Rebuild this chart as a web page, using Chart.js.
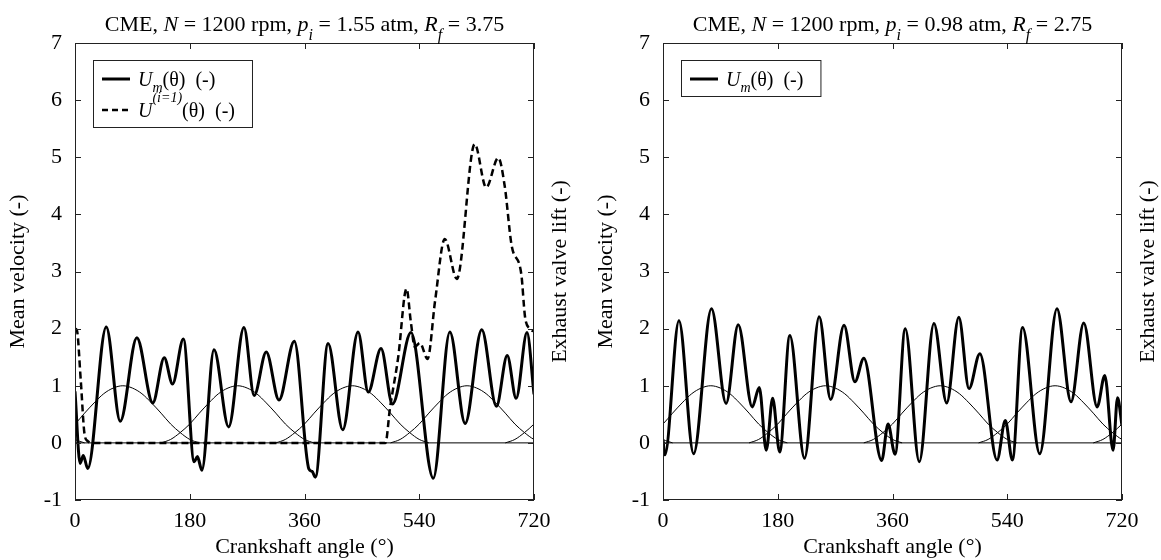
<!DOCTYPE html>
<html>
<head>
<meta charset="utf-8">
<script src="https://cdn.jsdelivr.net/npm/chart.js@4.4.1/dist/chart.umd.min.js"></script>
<style>
  body { margin: 0; background: #fff; }
  .panel { position: absolute; top: 0; height: 560px; }
  #left { left: 0; width: 580px; }
  #right { left: 580px; width: 581px; }
</style>
</head>
<body>
<div class="panel" id="left"><canvas id="chartLeft" width="580" height="560"></canvas></div>
<div class="panel" id="right"><canvas id="chartRight" width="581" height="560"></canvas></div>
<script>
const angleTicks = [0, 180, 360, 540, 720];
const velocityTicks = [-1, 0, 1, 2, 3, 4, 5, 6, 7];

// exhaust valve lift: same bell for each cylinder
const liftPeaks = [-105, 75, 255, 435, 615, 795];
const liftOffsets = [-120, -105, -90, -75, -60, -45, -30, -15, 0, 15, 30, 45, 60, 75, 90, 105, 120];
const liftShape = [0, 0.06, 0.18, 0.33, 0.52, 0.7, 0.86, 0.96, 1, 0.96, 0.86, 0.7, 0.52, 0.33, 0.18, 0.06, 0];

// left panel, p_i = 1.55 atm
const leftMeanAngles = [0, 8, 13, 20, 49, 71, 97, 122, 140, 153, 170, 187, 192, 199, 218, 241, 265, 281, 300, 320,
  344, 367, 372, 377, 397, 420, 444, 460, 480, 498, 527, 562, 588, 612, 638, 661, 678, 692, 709, 720];
const leftMeanValues = [0.9, -0.36, -0.22, -0.45, 2.03, 0.38, 1.84, 0.7, 1.49, 1.03, 1.82, -0.33, -0.24, -0.48, 1.63, 0.28, 2.02, 0.83, 1.59, 0.75,
  1.78, -0.46, -0.5, -0.6, 1.74, 0.23, 1.94, 0.89, 1.65, 0.68, 1.93, -0.62, 1.94, 0.34, 1.98, 0.64, 1.53, 0.78, 1.93, 0.85];
const leftCycleAngles = [0, 3, 9, 15, 20, 26, 487, 494, 507, 520, 527, 533, 541, 553, 565, 580, 599, 627, 645, 664, 674, 685, 700, 706, 713, 720];
const leftCycleValues = [2.0, 1.97, 1.1, 0.15, 0.03, 0, 0, 0.6, 1.5, 2.7, 2.1, 1.68, 1.75, 1.47, 2.5, 3.57, 2.87, 5.23, 4.47, 4.99, 4.5, 3.45, 2.96, 2.2, 2.0, 1.95];

// right panel, p_i = 0.98 atm
const rightMeanAngles = [0, 3, 25, 48, 76, 99, 118, 140, 151, 162, 172, 183, 199, 222, 245, 263, 284, 301, 315, 343,
  353, 364, 380, 402, 425, 445, 464, 480, 497, 524, 537, 548, 564, 591, 618, 640, 660, 681, 693, 706, 713, 720];
const rightMeanValues = [0.05, -0.21, 2.14, -0.19, 2.35, 0.69, 2.07, 0.63, 0.97, -0.13, 0.78, -0.16, 1.88, -0.27, 2.21, 0.76, 2.06, 1.07, 1.48, -0.31,
  0.33, -0.2, 2.0, -0.33, 2.09, 0.7, 2.2, 0.95, 1.56, -0.3, 0.39, -0.3, 2.02, -0.19, 2.35, 0.72, 2.1, 0.63, 1.18, -0.13, 0.79, 0.3];

const FONT = '"Liberation Serif", "Times New Roman", serif';
const TEXT_SIZE = 22;

function toPoints(xs, ys) {
  return xs.map((x, i) => ({ x: x, y: ys[i] }));
}

function liftDatasets() {
  return liftPeaks.map(p => ({
    data: toPoints(liftOffsets.map(d => p + d), liftShape),
    borderColor: "#000",
    borderWidth: 1,
    cubicInterpolationMode: "monotone",
  }));
}

function fontFor(part, size) {
  const s = part.sub || part.sup ? Math.round(size * 0.72) : size;
  return (part.i ? "italic " : "") + s + "px " + FONT;
}

function richWidth(ctx, parts, size) {
  let w = 0;
  for (const p of parts) {
    ctx.font = fontFor(p, size);
    w += ctx.measureText(p.t).width;
  }
  return w;
}

function drawRich(ctx, parts, x, y, size, subDrop, supRise) {
  let cx = x;
  for (const p of parts) {
    ctx.font = fontFor(p, size);
    const dy = p.sub ? subDrop : p.sup ? -supRise : 0;
    ctx.fillText(p.t, cx, y + dy);
    cx += ctx.measureText(p.t).width;
  }
}

const framePlugin = {
  id: "frame",
  afterDatasetsDraw(chart, args, opts) {
    const { ctx, chartArea: a, scales: { x, y } } = chart;
    ctx.save();
    ctx.strokeStyle = "#222";
    ctx.lineWidth = 1;
    ctx.setLineDash([]);
    ctx.strokeRect(a.left + 0.5, a.top + 0.5, a.right - a.left - 1, a.bottom - a.top - 1);

    // inward ticks on all four sides
    ctx.beginPath();
    for (const v of angleTicks) {
      const px = Math.round(x.getPixelForValue(v)) + 0.5;
      ctx.moveTo(px, a.bottom); ctx.lineTo(px, a.bottom - 6);
      ctx.moveTo(px, a.top); ctx.lineTo(px, a.top + 6);
    }
    for (const v of velocityTicks) {
      const py = Math.round(y.getPixelForValue(v)) + 0.5;
      ctx.moveTo(a.left, py); ctx.lineTo(a.left + 6, py);
      ctx.moveTo(a.right, py); ctx.lineTo(a.right - 6, py);
    }
    ctx.stroke();

    ctx.fillStyle = "#000";
    const cx = (a.left + a.right) / 2;
    const cy = (a.top + a.bottom) / 2;

    // title
    ctx.textBaseline = "alphabetic";
    ctx.textAlign = "left";
    const tw = richWidth(ctx, opts.title, TEXT_SIZE);
    drawRich(ctx, opts.title, cx - tw / 2, a.top - 12, TEXT_SIZE, 9, 0);

    // axis titles
    ctx.font = TEXT_SIZE + "px " + FONT;
    ctx.textAlign = "center";
    ctx.textBaseline = "middle";
    ctx.fillText("Crankshaft angle (°)", cx, a.bottom + 47);
    ctx.save();
    ctx.translate(a.left - 57, cy);
    ctx.rotate(-Math.PI / 2);
    ctx.fillText("Mean velocity (-)", 0, 0);
    ctx.restore();
    ctx.save();
    ctx.translate(a.right + 26, cy);
    ctx.rotate(-Math.PI / 2);
    ctx.fillText("Exhaust valve lift (-)", 0, 0);
    ctx.restore();

    // legend
    const rows = opts.legend;
    let textW = 0;
    for (const r of rows) textW = Math.max(textW, richWidth(ctx, r.label, 20));
    const bx = a.left + 18, by = a.top + 17;
    const bw = textW + 62, bh = 19 + 31 * (rows.length - 1) + 17;
    ctx.fillStyle = "#fff";
    ctx.fillRect(bx, by, bw, bh);
    ctx.strokeStyle = "#222";
    ctx.lineWidth = 1;
    ctx.strokeRect(bx + 0.5, by + 0.5, bw, bh);
    ctx.fillStyle = "#000";
    ctx.textAlign = "left";
    ctx.textBaseline = "alphabetic";
    rows.forEach((r, i) => {
      const ry = by + 19 + 31 * i;
      ctx.strokeStyle = "#000";
      ctx.lineWidth = r.width;
      ctx.setLineDash(r.dash);
      ctx.beginPath();
      ctx.moveTo(bx + 9, ry);
      ctx.lineTo(bx + 37, ry);
      ctx.stroke();
      ctx.setLineDash([]);
      drawRich(ctx, r.label, bx + 45, ry + 7, 20, 6, 15);
    });
    ctx.restore();
  },
};

function makeChart(canvasId, leftWidth, rightWidth, datasets, title, legend) {
  const tickFont = { family: FONT, size: TEXT_SIZE };
  return new Chart(document.getElementById(canvasId), {
    type: "line",
    data: { datasets: datasets },
    options: {
      responsive: false,
      animation: false,
      events: [],
      layout: { padding: { top: 43, left: 0, right: 0, bottom: 0 } },
      elements: { point: { radius: 0 }, line: { fill: false } },
      plugins: {
        legend: { display: false },
        tooltip: { enabled: false },
        frame: { title: title, legend: legend },
      },
      scales: {
        x: {
          type: "linear",
          min: 0,
          max: 720,
          grid: { display: false },
          border: { display: false },
          ticks: { color: "#000", font: tickFont, padding: 0, maxRotation: 0, autoSkip: false },
          afterBuildTicks: s => { s.ticks = angleTicks.map(v => ({ value: v })); },
          afterFit: s => { s.height = 60; },
        },
        y: {
          type: "linear",
          min: -1,
          max: 7,
          grid: { display: false },
          border: { display: false },
          ticks: { color: "#000", font: tickFont, padding: 5 },
          afterBuildTicks: s => { s.ticks = velocityTicks.map(v => ({ value: v })); },
          afterFit: s => { s.width = leftWidth; },
        },
        y2: {
          type: "linear",
          position: "right",
          min: -1,
          max: 7,
          grid: { display: false },
          border: { display: false },
          ticks: { display: false },
          afterFit: s => { s.width = rightWidth; },
        },
      },
    },
    plugins: [framePlugin],
  });
}

function zeroLine() {
  return { data: toPoints([0, 720], [0, 0]), borderColor: "#000", borderWidth: 1 };
}

function meanLabel() {
  return [{ t: "U", i: true }, { t: "m", i: true, sub: true }, { t: "(θ)  (-)" }];
}

window.addEventListener("load", () => {
  makeChart(
    "chartLeft", 75, 46,
    [
      zeroLine(),
      ...liftDatasets(),
      {
        data: toPoints(leftCycleAngles, leftCycleValues),
        borderColor: "#000", borderWidth: 2.5, borderDash: [7, 4],
        cubicInterpolationMode: "monotone",
      },
      {
        data: toPoints(leftMeanAngles, leftMeanValues),
        borderColor: "#000", borderWidth: 3,
        cubicInterpolationMode: "monotone",
      },
    ],
    [{ t: "CME, " }, { t: "N", i: true }, { t: " = 1200 rpm, " }, { t: "p", i: true }, { t: "i", i: true, sub: true },
     { t: " = 1.55 atm, " }, { t: "R", i: true }, { t: "f", i: true, sub: true }, { t: " = 3.75" }],
    [
      { width: 3, dash: [], label: meanLabel() },
      { width: 2.5, dash: [6, 4], label: [{ t: "U", i: true }, { t: "(i=1)", i: true, sup: true }, { t: "(θ)  (-)" }] },
    ]
  );

  makeChart(
    "chartRight", 83, 39,
    [
      zeroLine(),
      ...liftDatasets(),
      {
        data: toPoints(rightMeanAngles, rightMeanValues),
        borderColor: "#000", borderWidth: 3,
        cubicInterpolationMode: "monotone",
      },
    ],
    [{ t: "CME, " }, { t: "N", i: true }, { t: " = 1200 rpm, " }, { t: "p", i: true }, { t: "i", i: true, sub: true },
     { t: " = 0.98 atm, " }, { t: "R", i: true }, { t: "f", i: true, sub: true }, { t: " = 2.75" }],
    [{ width: 3, dash: [], label: meanLabel() }]
  );
});
</script>
</body>
</html>
